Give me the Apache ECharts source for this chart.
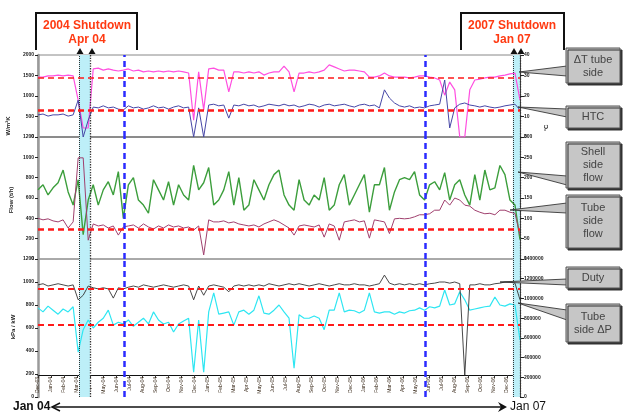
<!DOCTYPE html>
<html><head><meta charset="utf-8">
<script src="https://cdn.jsdelivr.net/npm/echarts@6/dist/echarts.min.js"></script>
<style>html,body{margin:0;padding:0;background:#fff}#c{width:626px;height:413px}</style>
</head><body><div id="c"></div>
<script>
// Month tick labels (x axis, Dec-03 .. Jan-07)
const monthLabels = ['Dec-03','Jan-04','Feb-04','Mar-04','Apr-04','May-04','Jun-04','Jul-04','Aug-04','Sep-04','Oct-04','Nov-04','Dec-04',
 'Jan-05','Feb-05','Mar-05','Apr-05','May-05','Jun-05','Jul-05','Aug-05','Sep-05','Oct-05','Nov-05','Dec-05',
 'Jan-06','Feb-06','Mar-06','Apr-06','May-06','Jun-06','Jul-06','Aug-06','Sep-06','Oct-06','Nov-06','Dec-06','Jan-07'];
const sampleStep = 37/96; // months between samples

// Panel 1
const dtTubeSide = [1460,1460,1490,1490,1510,1490,1510,1490,900,220,220,1660,1680,1630,1660,1630,1610,1630,1660,1610,1630,1590,1610,1590,1610,1590,1610,1590,1610,1590,1560,410,1590,660,1660,1680,1630,1630,1100,1590,1590,1560,1590,1560,1590,1510,1560,1590,1590,1730,1590,1100,1560,1560,1590,1560,1590,1630,1760,1710,1660,1610,1630,1630,1610,1590,1460,1460,1490,1560,1490,1460,1460,1460,1440,1460,1490,1490,1460,1440,1390,1020,1340,1150,0,0,1150,1390,1410,1440,1460,1460,1490,1510,1540,1560,900];
const htc = [540,560,510,540,540,560,510,540,900,0,410,730,710,760,710,730,680,660,760,710,730,680,710,760,710,730,680,730,760,710,730,0,710,0,780,800,760,780,460,780,760,800,760,780,730,760,800,780,760,800,760,780,730,760,800,780,730,780,800,760,780,800,760,730,780,800,760,780,710,1150,950,830,760,730,760,710,730,710,760,780,800,1390,220,710,800,830,780,760,730,760,730,710,730,760,780,800,660];
// Panel 2
const shellSideFlow = [680,730,630,700,750,875,660,530,780,240,580,730,530,680,760,630,860,400,730,800,580,530,450,780,680,580,760,530,730,630,580,920,680,750,900,530,580,680,860,530,800,480,530,780,680,580,730,830,875,630,530,480,780,580,530,630,580,800,480,530,730,830,530,630,730,830,460,730,730,900,480,660,780,800,780,860,630,580,730,760,680,850,580,730,780,630,530,830,580,875,680,700,920,830,580,530,190];
const tubeSideFlow = [400,385,395,375,365,385,305,365,995,995,185,345,325,335,305,325,235,315,325,335,305,345,315,295,325,305,335,315,325,305,315,285,325,40,385,365,365,375,355,365,345,335,325,335,315,345,365,385,365,335,305,235,325,335,325,315,335,215,345,325,185,365,375,385,365,375,205,385,375,365,250,395,400,395,400,415,435,435,445,480,480,580,530,600,580,530,520,480,460,445,450,435,480,480,460,450,235];
// Panel 3
const duty = [975,985,965,975,985,975,965,975,845,885,965,950,940,950,940,860,950,940,955,965,955,975,965,955,965,975,965,955,965,975,965,845,965,885,965,975,965,955,915,965,975,965,975,965,975,965,985,975,965,975,985,975,985,975,965,975,985,975,965,975,985,975,975,985,975,975,965,975,985,1060,990,975,985,975,985,975,985,975,985,990,1000,1000,990,1000,985,190,975,975,985,975,975,985,990,1000,1000,990,845];
const tubeSideDP = [775,740,790,755,720,765,740,785,390,585,670,600,650,685,755,625,650,635,670,615,650,685,635,740,670,635,650,565,635,660,685,215,670,215,740,905,720,730,740,625,740,755,720,755,880,730,720,755,800,740,685,250,715,685,685,705,685,585,755,755,905,740,755,750,730,755,905,740,730,740,740,720,740,730,750,755,775,755,785,775,790,930,800,810,915,845,755,765,775,785,790,870,800,790,810,800,495];

// limits & events
const limitDT = 1440, limitHTC = 660, limitFlow = 295, limitDuty = 940, limitDP = 625;
const shutdownBands = [[3.15, 3.99], [36.45, 37]];
const blueMarkers = [6.6, 29.7];

const pairs = arr => arr.map((v, i) => [i * sampleStep, v]);
const FONT = 'Liberation Sans, Arial, sans-serif';

function bandArea() {
  return { silent: true, itemStyle: { color: '#bdeff8' },
    data: shutdownBands.map(b => [{ xAxis: b[0] }, { xAxis: b[1] }]) };
}
function verticals(extra) {
  const d = [];
  shutdownBands.forEach(b => { d.push({ xAxis: b[0], lineStyle: { color: '#333', type: 'dotted', width: 1 } });
                               d.push({ xAxis: b[1], lineStyle: { color: '#333', type: 'dotted', width: 1.3 } }); });
  blueMarkers.forEach(m => d.push({ xAxis: m, lineStyle: { color: '#2b2bff', type: [6, 4], width: 2.5 } }));
  return { silent: true, symbol: ['none', 'none'], label: { show: false }, data: d.concat(extra) };
}
function limit(v, w) {
  return { silent: true, symbol: ['none', 'none'], label: { show: false },
    data: [{ yAxis: v, lineStyle: { color: '#ff1a1a', type: [6, 4], width: w } }] };
}
const plain = v => String(v);
function leftY(g, max, interval) {
  return { gridIndex: g, type: 'value', position: 'left', min: 0, max, interval,
    axisLine: { show: true, lineStyle: { color: '#9a9a9a', width: 2.5 } },
    axisTick: { show: true, length: 3, lineStyle: { color: '#222' } },
    axisLabel: { fontSize: 5, color: '#222', fontWeight: 'bold', margin: 4, fontFamily: FONT, formatter: plain },
    splitLine: { show: false } };
}
function rightY(g, max, interval) {
  return { gridIndex: g, type: 'value', position: 'right', min: 0, max, interval,
    axisLine: { show: true, lineStyle: { color: '#444', width: 1 } },
    axisTick: { show: true, length: 4, lineStyle: { color: '#222' } },
    axisLabel: { fontSize: 5, color: '#222', fontWeight: 'bold', margin: 4, fontFamily: FONT, formatter: plain },
    splitLine: { show: false } };
}
function hiddenX(g) {
  return { gridIndex: g, type: 'value', min: 0, max: 37, interval: 1, show: false, splitLine: { show: false } };
}

const boxStyle = { fill: '#c6c6c6', stroke: '#555', lineWidth: 1, shadowColor: '#333', shadowOffsetX: 2, shadowOffsetY: 2, shadowBlur: 0 };
const ptrStyle = { fill: '#c6c6c6', stroke: '#222', lineWidth: 0.8 };
const boxText = (x, y, t) => ({ type: 'text', x, y, z: 102, style: { text: t, fill: '#444', font: '11px ' + FONT, align: 'center', verticalAlign: 'middle', lineHeight: 13 } });
const redText = (x, y, t) => ({ type: 'text', x, y, z: 102, style: { text: t, fill: '#ff3a12', font: 'bold 12px ' + FONT, align: 'center', verticalAlign: 'middle' } });
const tri = (x) => ({ type: 'polygon', z: 102, shape: { points: [[x - 3.5, 54], [x, 48], [x + 3.5, 54]] }, style: { fill: '#111' } });

const chart = echarts.init(document.getElementById('c'), null, { renderer: 'canvas' });
chart.setOption({
  animation: false,
  backgroundColor: '#fff',
  grid: [
    { left: 38, top: 55, width: 482, height: 82, show: true, borderColor: '#888', borderWidth: 1, backgroundColor: 'transparent' },
    { left: 38, top: 137, width: 482, height: 122, show: true, borderColor: '#555', borderWidth: 1, backgroundColor: 'transparent' },
    { left: 38, top: 259, width: 482, height: 138, show: false }
  ],
  xAxis: [hiddenX(0), hiddenX(1),
    { gridIndex: 2, type: 'value', min: 0, max: 37, interval: 1, position: 'bottom', offset: -22,
      axisLine: { show: true, onZero: false, lineStyle: { color: '#111', width: 1 } },
      axisTick: { show: true, length: 3, lineStyle: { color: '#333' } },
      axisLabel: { rotate: 90, fontSize: 5, color: '#3a2a1a', margin: 2, fontFamily: FONT, formatter: v => monthLabels[Math.round(v)] || '' },
      splitLine: { show: false } }],
  yAxis: [leftY(0, 2000, 500), rightY(0, 40, 10),
          leftY(1, 1200, 200), rightY(1, 300, 50),
          leftY(2, 1200, 200), rightY(2, 1400000, 200000)],
  series: [
    { name: 'ΔT tube side', type: 'line', xAxisIndex: 0, yAxisIndex: 0, data: pairs(dtTubeSide), showSymbol: false,
      lineStyle: { color: '#ff4fe0', width: 1.2 }, itemStyle: { color: '#ff4fe0' }, z: 3,
      markArea: bandArea(), markLine: verticals([{ yAxis: limitDT, lineStyle: { color: '#ff1a1a', type: [6, 4], width: 1.5 } }]) },
    { name: 'HTC', type: 'line', xAxisIndex: 0, yAxisIndex: 0, data: pairs(htc), showSymbol: false,
      lineStyle: { color: '#4646a6', width: 1 }, itemStyle: { color: '#4646a6' }, z: 4, markLine: limit(limitHTC, 2.5) },
    { name: 'Shell side flow', type: 'line', xAxisIndex: 1, yAxisIndex: 2, data: pairs(shellSideFlow), showSymbol: false,
      lineStyle: { color: '#3c9e3c', width: 1.4 }, itemStyle: { color: '#3c9e3c' }, z: 3,
      markArea: bandArea(), markLine: verticals([]) },
    { name: 'Tube side flow', type: 'line', xAxisIndex: 1, yAxisIndex: 2, data: pairs(tubeSideFlow), showSymbol: false,
      lineStyle: { color: '#a0406e', width: 1 }, itemStyle: { color: '#a0406e' }, z: 4, markLine: limit(limitFlow, 2.5) },
    { name: 'Duty', type: 'line', xAxisIndex: 2, yAxisIndex: 4, data: pairs(duty), showSymbol: false,
      lineStyle: { color: '#333', width: 0.9 }, itemStyle: { color: '#333' }, z: 4,
      markArea: bandArea(), markLine: verticals([{ yAxis: limitDuty, lineStyle: { color: '#ff1a1a', type: [6, 4], width: 2 } }]) },
    { name: 'Tube side ΔP', type: 'line', xAxisIndex: 2, yAxisIndex: 4, data: pairs(tubeSideDP), showSymbol: false,
      lineStyle: { color: '#2ee6f2', width: 1.2 }, itemStyle: { color: '#2ee6f2' }, z: 3, markLine: limit(limitDP, 2) }
  ],
  graphic: [
    // top annotation boxes
    { type: 'polyline', z: 101, shape: { points: [[36, 50], [36, 13], [137, 13], [137, 50]] }, style: { stroke: '#111', lineWidth: 2, fill: null } },
    redText(87, 26, '2004 Shutdown'), redText(87, 40, 'Apr 04'),
    { type: 'polyline', z: 101, shape: { points: [[461, 50], [461, 13], [564, 13], [564, 50]] }, style: { stroke: '#111', lineWidth: 2, fill: null } },
    redText(512, 26, '2007 Shutdown'), redText(512, 40, 'Jan 07'),
    tri(80), tri(92), tri(514), tri(521),
    // callouts
    { type: 'polygon', z: 100, shape: { points: [[519, 72], [567, 66], [567, 76]] }, style: ptrStyle },
    { type: 'rect', z: 101, shape: { x: 566, y: 48, width: 54, height: 35 }, style: boxStyle }, boxText(593, 66, 'ΔT tube\nside'),
    { type: 'polygon', z: 100, shape: { points: [[518, 107], [567, 109], [567, 117]] }, style: ptrStyle },
    { type: 'rect', z: 101, shape: { x: 566, y: 106, width: 54, height: 22 }, style: boxStyle }, boxText(593, 117, 'HTC'),
    { type: 'polygon', z: 100, shape: { points: [[518, 172], [567, 176], [567, 185]] }, style: ptrStyle },
    { type: 'rect', z: 101, shape: { x: 566, y: 142, width: 54, height: 46 }, style: boxStyle }, boxText(593, 165, 'Shell\nside\nflow'),
    { type: 'polygon', z: 100, shape: { points: [[510, 210], [567, 203], [567, 213]] }, style: ptrStyle },
    { type: 'rect', z: 101, shape: { x: 566, y: 195, width: 54, height: 53 }, style: boxStyle }, boxText(593, 221, 'Tube\nside\nflow'),
    { type: 'polygon', z: 100, shape: { points: [[500, 282], [567, 279], [567, 285]] }, style: ptrStyle },
    { type: 'rect', z: 101, shape: { x: 566, y: 267, width: 54, height: 21 }, style: boxStyle }, boxText(593, 278, 'Duty'),
    { type: 'polygon', z: 100, shape: { points: [[518, 303], [567, 310], [567, 320]] }, style: ptrStyle },
    { type: 'rect', z: 101, shape: { x: 566, y: 304, width: 54, height: 38 }, style: boxStyle }, boxText(593, 323, 'Tube\nside ΔP'),
    // axis names
    { type: 'text', x: 8, y: 126, rotation: Math.PI / 2, style: { text: 'W/m²K', fill: '#222', font: 'bold 6px ' + FONT, align: 'center', verticalAlign: 'middle' } },
    { type: 'text', x: 11, y: 200, rotation: Math.PI / 2, style: { text: 'Flow (t/h)', fill: '#222', font: 'bold 6px ' + FONT, align: 'center', verticalAlign: 'middle' } },
    { type: 'text', x: 13, y: 327, rotation: Math.PI / 2, style: { text: 'kPa / kW', fill: '#222', font: 'bold 6px ' + FONT, align: 'center', verticalAlign: 'middle' } },
    { type: 'text', x: 546, y: 128, rotation: Math.PI / 2, style: { text: '°C', fill: '#222', font: 'bold 6px ' + FONT, align: 'center', verticalAlign: 'middle' } },
    // bottom time arrow
    { type: 'text', x: 13, y: 407, style: { text: 'Jan 04', fill: '#111', font: 'bold 12px ' + FONT, align: 'left', verticalAlign: 'middle' } },
    { type: 'line', shape: { x1: 52, y1: 407, x2: 502, y2: 407 }, style: { stroke: '#111', lineWidth: 1.5 } },
    { type: 'polyline', shape: { points: [[60, 403], [52, 407], [60, 411]] }, style: { stroke: '#111', lineWidth: 1.5, fill: null } },
    { type: 'polygon', shape: { points: [[498, 402], [507, 407], [498, 412], [501, 407]] }, style: { fill: '#111' } },
    { type: 'text', x: 510, y: 407, style: { text: 'Jan 07', fill: '#111', font: '12px ' + FONT, align: 'left', verticalAlign: 'middle' } }
  ]
});
</script></body></html>
